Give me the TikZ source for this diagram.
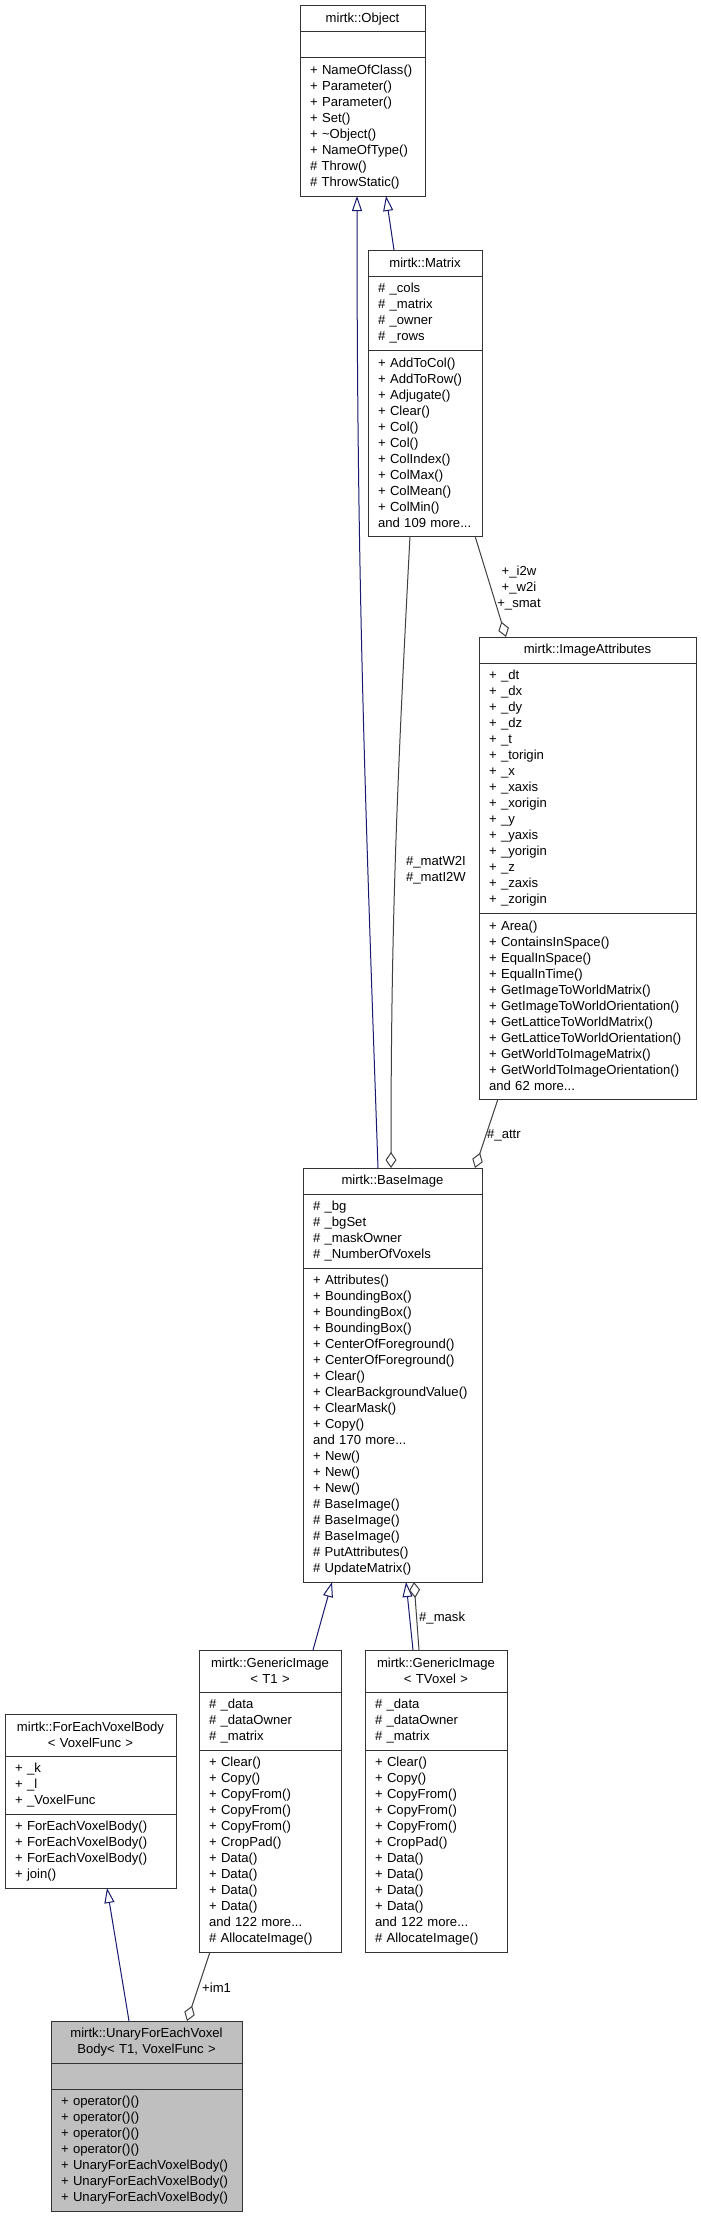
\documentclass[tikz,border=0pt]{standalone}
\usepackage{fontspec}
\setmainfont{Liberation Sans}
\usetikzlibrary{positioning,arrows.meta}
\definecolor{edgeblue}{HTML}{191970}
\definecolor{edgegray}{HTML}{404040}
\definecolor{classgray}{HTML}{BFBFBF}
\begin{document}
\begin{tikzpicture}
	[	x=1pt,y=-1pt,
	cls/.style={rectangle,draw=black!80,line width=1pt,outer sep=0pt,inner xsep=10pt,inner ysep=3pt,text width=#1,font=\fontsize{13.1}{16}\selectfont},
	head/.style={cls=#1,align=center},
	body/.style={cls=#1,align=left},
	plain/.style={draw=none,fill=none,inner sep=0pt,font=\fontsize{13.1}{16}\selectfont},
	isa/.style={draw=edgeblue,line width=1pt,-{Triangle[open,length=15pt,width=10pt]}},
	has/.style={draw=edgegray,line width=1pt,-{Diamond[open,length=16pt,width=11pt]}}
	]
	\fill[white] (0,0) rectangle (701,2221);
	\useasboundingbox (0,0) rectangle (701,2221);

	\node[head=105pt,minimum height=26pt,anchor=north west] (objt) at (300,6) {mirtk::Object};
	\node[body=105pt,minimum height=26pt,below=0pt of objt] (obja) {};
	\node[body=105pt,minimum height=138pt,below=0pt of obja] (objm) {+ NameOfClass()\\+ Parameter()\\+ Parameter()\\+ Set()\\+ \textasciitilde Object()\\+ NameOfType()\\\# Throw()\\\# ThrowStatic()};

	\node[head=94pt,minimum height=26pt,anchor=north west] (matt) at (368,250) {mirtk::Matrix};
	\node[body=94pt,minimum height=74pt,below=0pt of matt] (mata) {\# \_cols\\\# \_matrix\\\# \_owner\\\# \_rows};
	\node[body=94pt,minimum height=186pt,below=0pt of mata] (matm) {+ AddToCol()\\+ AddToRow()\\+ Adjugate()\\+ Clear()\\+ Col()\\+ Col()\\+ ColIndex()\\+ ColMax()\\+ ColMean()\\+ ColMin()\\and 109 more...};

	\node[head=197pt,minimum height=26pt,anchor=north west] (iat) at (479,637) {mirtk::ImageAttributes};
	\node[body=197pt,minimum height=250pt,below=0pt of iat] (iaa) {+ \_dt\\+ \_dx\\+ \_dy\\+ \_dz\\+ \_t\\+ \_torigin\\+ \_x\\+ \_xaxis\\+ \_xorigin\\+ \_y\\+ \_yaxis\\+ \_yorigin\\+ \_z\\+ \_zaxis\\+ \_zorigin};
	\node[body=197pt,minimum height=186pt,below=0pt of iaa] (iam) {+ Area()\\+ ContainsInSpace()\\+ EqualInSpace()\\+ EqualInTime()\\+ GetImageToWorldMatrix()\\+ GetImageToWorldOrientation()\\+ GetLatticeToWorldMatrix()\\+ GetLatticeToWorldOrientation()\\+ GetWorldToImageMatrix()\\+ GetWorldToImageOrientation()\\and 62 more...};

	\node[head=159pt,minimum height=26pt,anchor=north west] (bit) at (303,1168) {mirtk::BaseImage};
	\node[body=159pt,minimum height=74pt,below=0pt of bit] (bia) {\# \_bg\\\# \_bgSet\\\# \_maskOwner\\\# \_NumberOfVoxels};
	\node[body=159pt,minimum height=314pt,below=0pt of bia] (bim) {+ Attributes()\\+ BoundingBox()\\+ BoundingBox()\\+ BoundingBox()\\+ CenterOfForeground()\\+ CenterOfForeground()\\+ Clear()\\+ ClearBackgroundValue()\\+ ClearMask()\\+ Copy()\\and 170 more...\\+ New()\\+ New()\\+ New()\\\# BaseImage()\\\# BaseImage()\\\# BaseImage()\\\# PutAttributes()\\\# UpdateMatrix()};

	\node[head=122pt,minimum height=42pt,anchor=north west] (git) at (199,1650) {mirtk::GenericImage\\< T1 >};
	\node[body=122pt,minimum height=58pt,below=0pt of git] (gia) {\# \_data\\\# \_dataOwner\\\# \_matrix};
	\node[body=122pt,minimum height=202pt,below=0pt of gia] (gim) {+ Clear()\\+ Copy()\\+ CopyFrom()\\+ CopyFrom()\\+ CopyFrom()\\+ CropPad()\\+ Data()\\+ Data()\\+ Data()\\+ Data()\\and 122 more...\\\# AllocateImage()};

	\node[head=122pt,minimum height=42pt,anchor=north west] (gvt) at (365,1650) {mirtk::GenericImage\\< TVoxel >};
	\node[body=122pt,minimum height=58pt,below=0pt of gvt] (gva) {\# \_data\\\# \_dataOwner\\\# \_matrix};
	\node[body=122pt,minimum height=202pt,below=0pt of gva] (gvm) {+ Clear()\\+ Copy()\\+ CopyFrom()\\+ CopyFrom()\\+ CopyFrom()\\+ CropPad()\\+ Data()\\+ Data()\\+ Data()\\+ Data()\\and 122 more...\\\# AllocateImage()};

	\node[head=151pt,minimum height=42pt,anchor=north west] (fet) at (5,1714) {mirtk::ForEachVoxelBody\\< VoxelFunc >};
	\node[body=151pt,minimum height=58pt,below=0pt of fet] (fea) {+ \_k\\+ \_l\\+ \_VoxelFunc};
	\node[body=151pt,minimum height=74pt,below=0pt of fea] (fem) {+ ForEachVoxelBody()\\+ ForEachVoxelBody()\\+ ForEachVoxelBody()\\+ join()};

	\node[head=171pt,minimum height=42pt,fill=classgray,anchor=north west] (unt) at (51,2021) {mirtk::UnaryForEachVoxel\\Body< T1, VoxelFunc >};
	\node[body=171pt,minimum height=26pt,fill=classgray,below=0pt of unt] (una) {};
	\node[body=171pt,minimum height=122pt,fill=classgray,below=0pt of una] (unm) {+ operator()()\\+ operator()()\\+ operator()()\\+ operator()()\\+ UnaryForEachVoxelBody()\\+ UnaryForEachVoxelBody()\\+ UnaryForEachVoxelBody()};

	\draw[isa] ([xshift=75pt]bit.north west) to[out=92,in=-90] ([xshift=57pt]objm.south west);
	\draw[isa] ([xshift=26pt]matt.north west) -- ([xshift=86pt]objm.south west);
	\draw[has] ([xshift=42pt]matm.south west) to[out=-93,in=90] ([xshift=88pt]bit.north west);
	\draw[has] ([xshift=107pt]matm.south west) -- ([xshift=27pt]iat.north west);
	\draw[has] ([xshift=19pt]iam.south west) -- ([xshift=172pt]bit.north west);
	\draw[isa] ([xshift=114pt]git.north west) -- ([xshift=29pt]bim.south west);
	\draw[isa] ([xshift=48pt]gvt.north west) -- ([xshift=103pt]bim.south west);
	\draw[has] ([xshift=54pt]gvt.north west) -- ([xshift=111pt]bim.south west);
	\draw[isa] ([xshift=78pt]unt.north west) -- ([xshift=102pt]fem.south west);
	\draw[has] ([xshift=11pt]gim.south west) -- ([xshift=136pt]unt.north west);

\node[plain,align=center] (smatlbl) at (519,588) {+\_i2w\\+\_w2i\\+\_smat};
\node[plain,align=center] (matlbl) at (436,870) {\#\_matW2I\\\#\_matI2W};
\node[plain,anchor=west] (attrlbl) at (487,1135) {\#\_attr};
\node[plain,anchor=west] (masklbl) at (419,1618) {\#\_mask};
\node[plain,anchor=west] (imlbl) at (202,1988) {+im1};
\end{tikzpicture}
\end{document}
